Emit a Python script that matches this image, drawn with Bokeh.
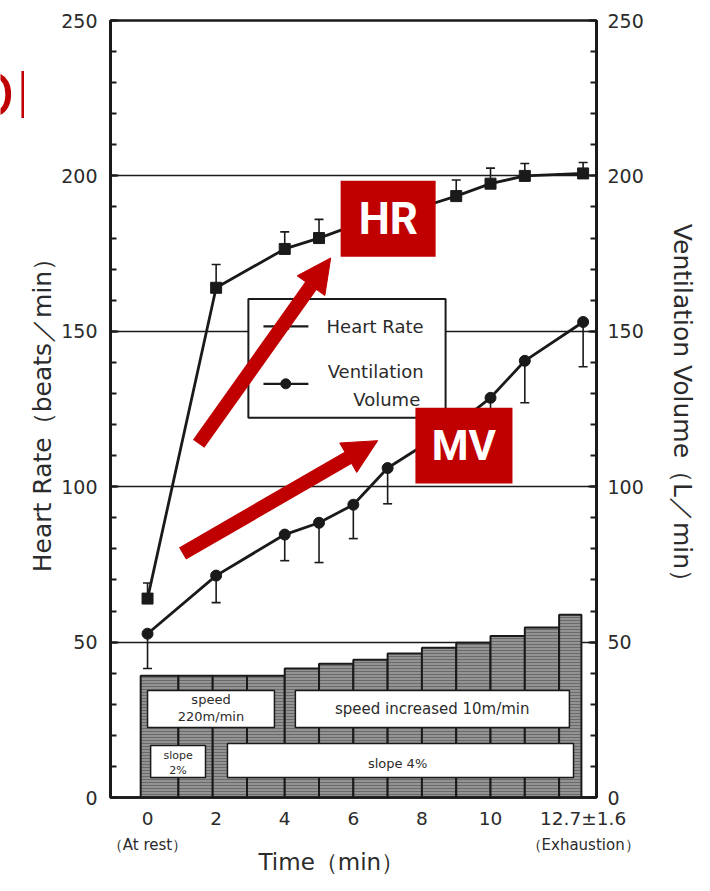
from bokeh.plotting import figure
from bokeh.layouts import row
from bokeh.models import (Range1d, LinearAxis, FixedTicker, Arrow, NormalHead, TeeHead,
                          ColumnDataSource, Whisker, Title)
from bokeh.embed import file_html
from bokeh.resources import INLINE
from bokeh.core.properties import value

# ---------------- data ----------------
time_min = [0, 2, 4, 5, 6, 7, 8, 9, 10, 11, 12.7]
heart_rate = [64, 164, 176.5, 180, 184, 187, 190, 193.5, 197.5, 200, 200.8]
hr_sd = [5, 7.5, 5.5, 6, 5, 5, 5, 5.2, 5, 4, 3.5]
ventilation = [52.7, 71.4, 84.6, 88.4, 94.2, 106, 113, 120, 128.6, 140.5, 153]
ve_sd = [11.2, 8.7, 8.4, 12.8, 10.9, 11.5, 10, 10, 10, 13.5, 14.4]

stage_start = [-0.2, 0.9, 1.9, 2.9, 4, 5, 6, 7, 8, 9, 10, 11, 12]
stage_end = [0.9, 1.9, 2.9, 4, 5, 6, 7, 8, 9, 10, 11, 12, 12.65]
stage_level = [39.2, 39.2, 39.2, 39.2, 41.5, 43, 44.3, 46.3, 48.2, 49.8, 52, 54.7, 58.8]

x_ticks = [0, 2, 4, 6, 8, 10, 12.7]
x_tick_labels = ["0", "2", "4", "6", "8", "10", "12.7±1.6"]
x_note_ticks = [0, 12.7]
x_note_labels = ["（At rest）", "（Exhaustion）"]
y_ticks = [0, 50, 100, 150, 200, 250]

RED = "#c00000"
INK = "#1a1a1a"
TXT = "#2b2b2b"
FONT = "DejaVu Sans"

# ---- narrow strip holding the cut-off red slide title at the far left ----
strip = figure(width=24, height=875, x_range=Range1d(0, 24), y_range=Range1d(875, 0),
               min_border=0, toolbar_location=None, output_backend="svg",
               x_axis_location=None, y_axis_location=None, outline_line_color=None)
for g in strip.grid:
    g.visible = False
strip.text(x=[33], y=[80], text=["DI"], text_align="right", text_baseline="alphabetic",
           text_font=value("Open Sans"), text_font_size="66px", text_color=RED)

# ---- main chart ----
p = figure(frame_width=486, frame_height=777,
           min_border_left=86, min_border_right=98, min_border_top=20, min_border_bottom=78,
           x_range=Range1d(-1.08, 13.09), y_range=Range1d(0, 250),
           output_backend="svg", toolbar_location=None)
p.extra_y_ranges = {"ve": Range1d(0, 250)}
p.outline_line_color = INK
p.outline_line_width = 2.5

p.xgrid.visible = False
p.ygrid.ticker = FixedTicker(ticks=[50, 100, 150, 200])
p.ygrid.grid_line_color = INK
p.ygrid.grid_line_width = 1.6

def style_y(ax, standoff):
    ax.ticker = FixedTicker(ticks=y_ticks, minor_ticks=list(range(0, 251, 10)))
    ax.major_tick_in = 8
    ax.major_tick_out = 0
    ax.minor_tick_in = 6
    ax.minor_tick_out = 0
    ax.major_tick_line_color = INK
    ax.minor_tick_line_color = INK
    ax.major_tick_line_width = 2
    ax.minor_tick_line_width = 2
    ax.axis_line_color = INK
    ax.axis_line_width = 3
    ax.major_label_text_font = FONT
    ax.major_label_text_font_size = "19px"
    ax.major_label_text_color = TXT
    ax.axis_label_text_font = FONT
    ax.axis_label_text_font_size = "25px"
    ax.axis_label_text_font_style = "normal"
    ax.axis_label_text_color = TXT
    ax.axis_label_standoff = standoff

yl = p.yaxis[0]
style_y(yl, 1)
yl.major_label_standoff = 13
yl.axis_label = "Heart Rate（beats／min）"

yr = LinearAxis(y_range_name="ve")
style_y(yr, 21)
yr.major_label_standoff = 11
yr.axis_label = "Ventilation Volume（L／min）"
p.add_layout(yr, "right")

xa = p.xaxis[0]
xa.ticker = FixedTicker(ticks=x_ticks)
xa.major_label_overrides = {t: l for t, l in zip(x_ticks, x_tick_labels)}
xa.major_tick_in = 0
xa.major_tick_out = 0
xa.minor_tick_in = 0
xa.minor_tick_out = 0
xa.axis_line_color = INK
xa.axis_line_width = 2.5
xa.major_label_standoff = 10
xa.major_label_text_font = FONT
xa.major_label_text_font_size = "18.5px"
xa.major_label_text_color = TXT

xn = LinearAxis(ticker=FixedTicker(ticks=x_note_ticks))
xn.major_label_overrides = {t: l for t, l in zip(x_note_ticks, x_note_labels)}
xn.axis_line_color = None
xn.major_tick_line_color = None
xn.minor_tick_line_color = None
xn.major_tick_in = 0
xn.major_tick_out = 0
xn.minor_tick_in = 0
xn.minor_tick_out = 0
xn.major_label_standoff = 4
xn.major_label_text_font = FONT
xn.major_label_text_font_size = "15px"
xn.major_label_text_color = TXT
p.add_layout(xn, "below")

p.add_layout(Title(text="Time（min）", align="left", offset=148, standoff=-20,
                   text_font=FONT, text_font_size="23px", text_font_style="normal",
                   text_color=TXT), "below")

# ---- exercise protocol bars ----
p.quad(left=stage_start, right=stage_end, bottom=0, top=stage_level,
       fill_color="#939393", line_color=INK, line_width=2,
       hatch_pattern="horizontal_line", hatch_color="#6a6a6a", hatch_scale=3, hatch_weight=1)

box_l = [0, 4.31, 0.09, 2.33]
box_r = [3.7, 12.3, 1.69, 12.42]
box_b = [22.5, 22.5, 6.4, 6.4]
box_t = [34.4, 34.4, 16.7, 17.4]
p.quad(left=box_l, right=box_r, bottom=box_b, top=box_t,
       fill_color="white", line_color=INK, line_width=1.5)

def txt(x, y, s, size, align="center", color=TXT, style="normal", font=FONT):
    p.text(x=[x], y=[y], text=[s], text_font=value(font), text_font_size=size,
           text_align=align, text_baseline="middle", text_color=color,
           text_font_style=style)

txt(1.85, 31.6, "speed", "13px")
txt(1.85, 26.0, "220m/min", "13px")
txt(8.3, 28.5, "speed increased 10m/min", "15px")
txt(0.89, 13.4, "slope", "11px")
txt(0.89, 8.7, "2%", "11px")
txt(7.35, 11.0, "slope  4%", "13px")

# ---- series ----
src = ColumnDataSource(dict(
    t=time_min, hr=heart_rate, hr_top=[h + s for h, s in zip(heart_rate, hr_sd)],
    ve=ventilation, ve_bot=[v - s for v, s in zip(ventilation, ve_sd)]))

p.add_layout(Whisker(source=src, base="t", lower="hr", upper="hr_top", dimension="height",
                     line_color=INK, line_width=1.6, lower_head=None,
                     upper_head=TeeHead(size=9, line_color=INK, line_width=1.6)))
p.add_layout(Whisker(source=src, base="t", lower="ve_bot", upper="ve", dimension="height",
                     y_range_name="ve", line_color=INK, line_width=1.6, upper_head=None,
                     lower_head=TeeHead(size=9, line_color=INK, line_width=1.6)))

p.line("t", "hr", source=src, line_color=INK, line_width=2.8)
p.scatter("t", "hr", source=src, marker="square", size=11, fill_color=INK, line_color=INK)
p.line("t", "ve", source=src, y_range_name="ve", line_color=INK, line_width=2.8)
p.scatter("t", "ve", source=src, y_range_name="ve", marker="circle", size=11,
          fill_color=INK, line_color=INK)

# ---- legend box ----
p.quad(left=[2.94], right=[8.69], bottom=[122.2], top=[160.4],
       fill_color="white", line_color=INK, line_width=2)
p.segment(x0=[3.38], y0=[151.6], x1=[4.69], y1=[151.6], line_color=INK, line_width=2.2)
p.scatter(x=[4.03], y=[151.6], marker="square", size=6, fill_color=INK, line_color=INK)
p.segment(x0=[3.38], y0=[133.1], x1=[4.69], y1=[133.1], line_color=INK, line_width=2.2)
p.scatter(x=[4.03], y=[133.1], marker="circle", size=10, fill_color=INK, line_color=INK)
txt(8.05, 151.6, "Heart Rate", "18px", align="right")
txt(8.05, 137.0, "Ventilation", "18px", align="right")
txt(7.95, 128.0, "Volume", "18px", align="right")

# ---- red annotations ----
p.quad(left=[5.63, 7.81], right=[8.40, 10.64], bottom=[174.0, 101.0], top=[198.4, 125.4],
       fill_color=RED, line_color=None)
txt(7.02, 186.2, "HR", "44px", color="white", style="bold", font="Roboto")
txt(9.22, 113.2, "MV", "42px", color="white", style="bold", font="Roboto")

for (xs, ys, xe, ye) in [(1.49, 113.8, 5.34, 173.6), (1.02, 78.5, 6.71, 114.8)]:
    p.add_layout(Arrow(x_start=xs, y_start=ys, x_end=xe, y_end=ye,
                       line_color=RED, line_width=14,
                       end=NormalHead(size=34, fill_color=RED, line_color=RED, line_width=1)))

layout = row(strip, p)
open("out.html", "w").write(file_html(layout, INLINE))
